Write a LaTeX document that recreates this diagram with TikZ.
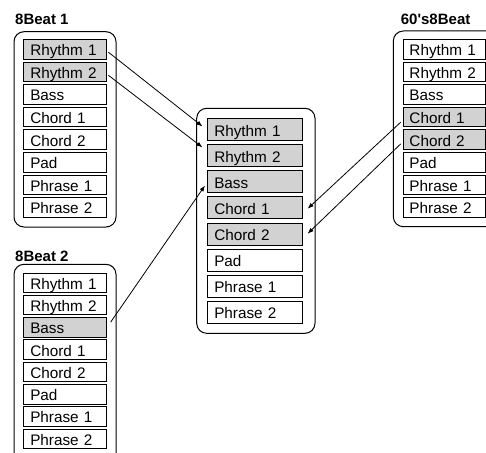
\documentclass[tikz,border=0pt]{standalone}
\usepackage{fontspec}
\setmainfont{Liberation Sans}
\usetikzlibrary{arrows.meta,calc}
\tikzset{
  cellbase/.style={draw, line width=0.9pt, anchor=north west, inner xsep=6.5pt, inner ysep=0pt,
    align=left, font=\fontsize{15.3}{15.3}\selectfont},
  small/.style={cellbase, text width=69.5pt, text height=16.2pt, text depth=3.3pt},
  big/.style={cellbase, text width=81.5pt, text height=17.7pt, text depth=4.3pt},
  cellon/.style={fill=gray!35},
  celloff/.style={fill=white},
  group/.style={draw, line width=1pt, rounded corners=10pt},
  title/.style={anchor=base west, inner sep=0pt, font=\fontsize{15}{15}\selectfont\bfseries},
  arr/.style={line width=0.8pt, -{Latex[length=6pt,width=4.5pt]}}
}
\begin{document}
\begin{tikzpicture}[x=1pt,y=-1pt]
\clip (0,0) rectangle (486,452);
\fill[white] (0,0) rectangle (486,452);
% group frames
\draw[group] (14,31.7) rectangle (116,227);
\draw[group] (14,264.3) rectangle (116,480);
\draw[group] (196.7,108.3) rectangle (315,333.3);
\draw[group] (393.3,31) rectangle (510,226.7);
% titles
\node[title] (t1) at (15,25) {8Beat 1};
\node[title] (t2) at (15,261.7) {8Beat 2};
\node[title] (t3) at (400.7,25) {60\textquotesingle s8Beat};
% 8Beat 1
\foreach \t/\n/\f [count=\i from 0] in {Rhythm 1/r1/cellon, Rhythm 2/r2/cellon, Bass/ba/celloff, Chord 1/c1/celloff, Chord 2/c2/celloff, Pad/pd/celloff, Phrase 1/p1/celloff, Phrase 2/p2/celloff}
  \node[small,\f] (A\n) at (23.3, 39+22.6*\i) {\t};
% 8Beat 2
\foreach \t/\n/\f [count=\i from 0] in {Rhythm 1/r1/celloff, Rhythm 2/r2/celloff, Bass/ba/cellon, Chord 1/c1/celloff, Chord 2/c2/celloff, Pad/pd/celloff, Phrase 1/p1/celloff, Phrase 2/p2/celloff}
  \node[small,\f] (B\n) at (23.3, 272.5+22.3*\i) {\t};
% 60's8Beat
\foreach \t/\n/\f [count=\i from 0] in {Rhythm 1/r1/celloff, Rhythm 2/r2/celloff, Bass/ba/celloff, Chord 1/c1/cellon, Chord 2/c2/cellon, Pad/pd/celloff, Phrase 1/p1/celloff, Phrase 2/p2/celloff}
  \node[small,\f] (R\n) at (402.5, 39+22.6*\i) {\t};
% centre
\foreach \t/\n/\f [count=\i from 0] in {Rhythm 1/r1/cellon, Rhythm 2/r2/cellon, Bass/ba/cellon, Chord 1/c1/cellon, Chord 2/c2/cellon, Pad/pd/celloff, Phrase 1/p1/celloff, Phrase 2/p2/celloff}
  \node[big,\f] (C\n) at (207.3, 118.3+26.06*\i) {\t};
% connectors
\draw[arr] ($(Ar1.east)+(1.7,3)$) -- ($(Cr1.west)+(-4.8,-3.3)$);
\draw[arr] ($(Ar2.east)+(1.7,3.5)$) -- ($(Cr2.west)+(-4.8,-8.4)$);
\draw[arr] ($(Bba.east)+(4,-5.2)$) -- ($(Cba.west)+(-2.3,3.6)$);
\draw[arr] ($(Rc1.west)+(-1.8,5.2)$) -- ($(Cc1.east)+(4.9,0.8)$);
\draw[arr] ($(Rc2.west)+(-1.8,4.3)$) -- ($(Cc2.east)+(4.9,-0.3)$);
\end{tikzpicture}
\end{document}
